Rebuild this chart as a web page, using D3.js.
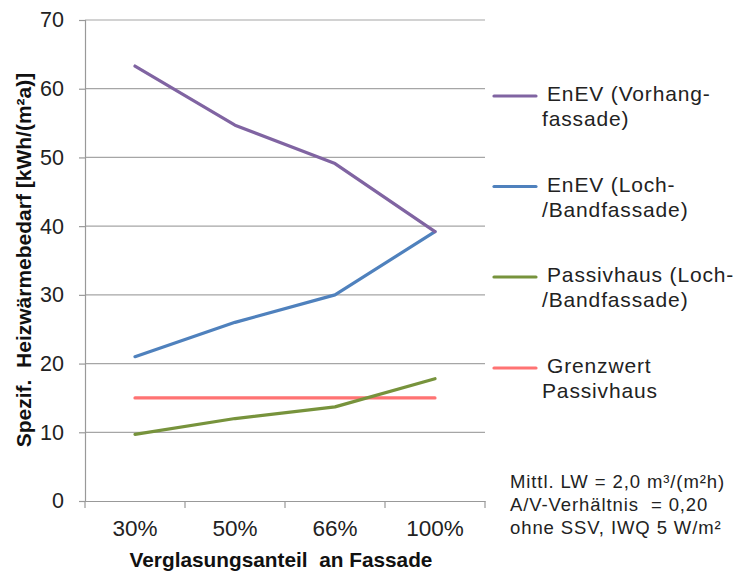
<!DOCTYPE html>
<html>
<head>
<meta charset="utf-8">
<script src="https://cdn.jsdelivr.net/npm/d3@7"></script>
<style>
  body { margin: 0; background: #fff; }
  svg { display: block; font-family: 'Liberation Sans', Arial, sans-serif; }
  svg text { white-space: pre; }
</style>
</head>
<body>
<div class="canvas"></div>
<script>
// data
const categories = ['30%', '50%', '66%', '100%'];
const enevVorhang = [63.3, 54.7, 49.1, 39.2];
const enevLoch = [21.0, 26.0, 30.0, 39.2];
const passivLoch = [9.7, 12.0, 13.7, 17.8];
const grenzwert = [15, 15, 15, 15];
const yTicks = [0, 10, 20, 30, 40, 50, 60, 70];

const seriesNames = [
  ['EnEV (Vorhang-', 'fassade)'],
  ['EnEV (Loch-', '/Bandfassade)'],
  ['Passivhaus (Loch-', '/Bandfassade)'],
  ['Grenzwert', 'Passivhaus'],
];
const seriesValues = [enevVorhang, enevLoch, passivLoch, grenzwert];
const colors = ['#8064A2', '#4F81BD', '#77933C', '#FF7373'];

const noteLines = [
  'Mittl. LW = 2,0 m³/(m²h)',
  'A/V-Verhältnis  = 0,20',
  'ohne SSV, IWQ 5 W/m²',
];

const dims = { width: 738, height: 571, left: 85, right: 485, top: 20, bottom: 501 };
const font = 'Liberation Sans, Arial, sans-serif';

const svg = d3.select('.canvas')
  .append('svg')
  .attr('width', dims.width)
  .attr('height', dims.height);

// scales
const x = d3.scaleBand().domain(categories).range([dims.left, dims.right]).padding(0);
const y = d3.scaleLinear().domain([0, 70]).range([dims.bottom, dims.top]);

// gridlines
svg.append('g')
  .selectAll('line')
  .data(yTicks.filter(d => d > 0))
  .enter()
  .append('line')
  .attr('x1', dims.left)
  .attr('x2', dims.right)
  .attr('y1', d => y(d))
  .attr('y2', d => y(d))
  .attr('stroke', '#a6a6a6')
  .attr('stroke-width', 1.2);

// y axis
const yAxis = d3.axisLeft(y).tickValues(yTicks).tickSize(6).tickPadding(15);
const yAxisGroup = svg.append('g')
  .attr('transform', `translate(${dims.left}, 0)`)
  .call(yAxis);
yAxisGroup.selectAll('path.domain').attr('stroke', '#999').attr('stroke-width', 1.2);
yAxisGroup.selectAll('.tick line').attr('stroke', '#999').attr('stroke-width', 1.2);
yAxisGroup.selectAll('text')
  .attr('fill', '#222')
  .attr('font-size', '21.5px')
  .attr('font-family', font);

// x axis
const xAxis = d3.axisBottom(x).tickSize(0).tickPadding(19);
const xAxisGroup = svg.append('g')
  .attr('transform', `translate(0, ${dims.bottom})`)
  .call(xAxis);
xAxisGroup.selectAll('path.domain').attr('stroke', '#999').attr('stroke-width', 1.2);
xAxisGroup.selectAll('text')
  .attr('fill', '#222')
  .attr('font-size', '22.5px')
  .attr('font-family', font);

// x tick marks at band boundaries
svg.append('g')
  .selectAll('line')
  .data(categories.concat(['end']))
  .enter()
  .append('line')
  .attr('x1', (d, i) => i < categories.length ? x(d) : x.range()[1])
  .attr('x2', (d, i) => i < categories.length ? x(d) : x.range()[1])
  .attr('y1', dims.bottom)
  .attr('y2', dims.bottom + 7)
  .attr('stroke', '#999')
  .attr('stroke-width', 1.2);

// lines
const line = d3.line()
  .x((d, i) => x(categories[i]) + x.bandwidth() / 2)
  .y(d => y(d));

// draw in reverse so purple ends up on top
[3, 2, 1, 0].forEach(i => {
  svg.append('path')
    .datum(seriesValues[i])
    .attr('fill', 'none')
    .attr('stroke', colors[i])
    .attr('stroke-width', 3.2)
    .attr('stroke-linejoin', 'round')
    .attr('stroke-linecap', 'round')
    .attr('d', line);
});

// axis titles
svg.append('text')
  .attr('x', 281)
  .attr('y', 567)
  .attr('text-anchor', 'middle')
  .attr('font-size', '20.8px')
  .attr('font-weight', 'bold')
  .attr('fill', '#111')
  .text('Verglasungsanteil  an Fassade');

svg.append('text')
  .attr('transform', 'translate(31, 260) rotate(-90)')
  .attr('text-anchor', 'middle')
  .attr('font-size', '21px')
  .attr('font-weight', 'bold')
  .attr('fill', '#111')
  .text('Spezif.  Heizwärmebedarf [kWh/(m²a)]');

// legend
const legendY = [96, 186.5, 277, 368];
const legend = svg.append('g');
seriesNames.forEach((names, i) => {
  legend.append('line')
    .attr('x1', 494)
    .attr('x2', 536)
    .attr('y1', legendY[i])
    .attr('y2', legendY[i])
    .attr('stroke', colors[i])
    .attr('stroke-width', 3.2)
    .attr('stroke-linecap', 'round');
  names.forEach((t, j) => {
    legend.append('text')
      .attr('x', j === 0 ? 547 : 542)
      .attr('y', legendY[i] + 5 + j * 25)
      .attr('font-size', '21px')
      .attr('letter-spacing', '0.85px')
      .attr('fill', '#222')
      .text(t);
  });
});

// note
noteLines.forEach((t, j) => {
  svg.append('text')
    .attr('x', 510)
    .attr('y', 488 + j * 23)
    .attr('font-size', '18.5px')
    .attr('letter-spacing', '0.9px')
    .attr('fill', '#222')
    .text(t);
});
</script>
</body>
</html>
